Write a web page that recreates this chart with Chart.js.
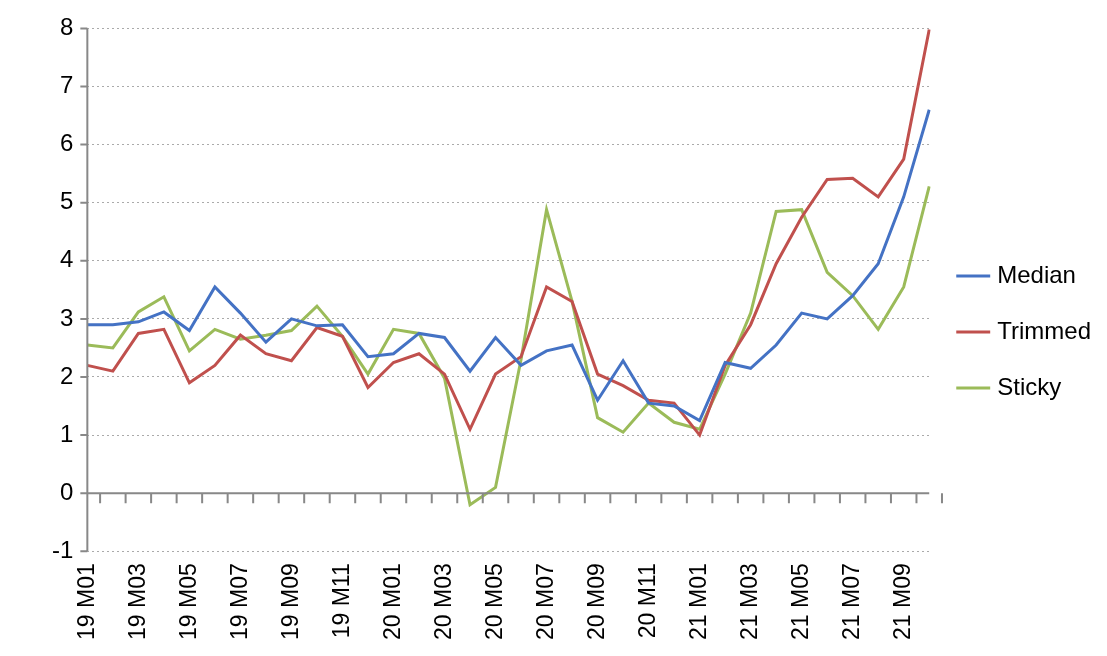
<!DOCTYPE html>
<html><head><meta charset="utf-8">
<script src="https://cdn.jsdelivr.net/npm/chart.js@4"></script>
<style>html,body{margin:0;background:#fff}#w{width:1107px;height:656px}</style>
</head><body><div id="w"><canvas id="c"></canvas></div>
<script>
const categories=["19 M01","19 M02","19 M03","19 M04","19 M05","19 M06","19 M07","19 M08","19 M09","19 M10","19 M11","19 M12","20 M01","20 M02","20 M03","20 M04","20 M05","20 M06","20 M07","20 M08","20 M09","20 M10","20 M11","20 M12","21 M01","21 M02","21 M03","21 M04","21 M05","21 M06","21 M07","21 M08","21 M09","21 M10"];
const median=[2.9,2.9,2.95,3.12,2.8,3.55,3.1,2.6,3.0,2.88,2.9,2.35,2.4,2.75,2.68,2.1,2.68,2.2,2.45,2.55,1.6,2.28,1.55,1.5,1.25,2.25,2.15,2.55,3.1,3.0,3.4,3.95,5.1,6.6];
const trimmed=[2.2,2.1,2.75,2.82,1.9,2.2,2.72,2.4,2.28,2.85,2.7,1.82,2.25,2.4,2.05,1.1,2.05,2.35,3.55,3.3,2.05,1.85,1.6,1.55,1.0,2.2,2.9,3.95,4.75,5.4,5.42,5.1,5.75,7.98];
const sticky=[2.55,2.5,3.12,3.38,2.45,2.82,2.65,2.72,2.8,3.22,2.7,2.05,2.82,2.75,1.98,-0.2,0.1,2.3,4.88,3.3,1.3,1.05,1.55,1.22,1.1,2.05,3.1,4.85,4.88,3.8,3.4,2.82,3.55,5.28];
const axes={id:'axes',afterDatasetsDraw(ch){const x=ch.scales.x,y=ch.scales.y,c=ch.ctx,a=ch.chartArea;const y0=y.getPixelForValue(0);c.save();c.strokeStyle='#888';c.lineWidth=2;c.setLineDash([]);c.beginPath();
c.moveTo(a.left,a.top);c.lineTo(a.left,a.bottom);
for(let v=-1;v<=8;v++){const py=y.getPixelForValue(v);c.moveTo(a.left-7,py);c.lineTo(a.left,py);}
c.moveTo(a.left,y0);c.lineTo(a.right,y0);
const step=x.getPixelForValue(1)-x.getPixelForValue(0);for(let i=0;i<categories.length;i++){const px=x.getPixelForValue(i)+step/2;c.moveTo(px,y0);c.lineTo(px,y0+10);}
c.stroke();c.restore();}};
const ds=(l,d,col)=>({label:l,data:d,borderColor:col,backgroundColor:col,borderWidth:3,pointRadius:0,tension:0});
new Chart(document.getElementById('c'),{type:'line',data:{labels:categories,datasets:[ds('Median',median,'#4472c4'),ds('Trimmed',trimmed,'#c0504d'),ds('Sticky',sticky,'#9bbb59')]},
options:{responsive:true,maintainAspectRatio:false,animation:false,layout:{padding:{left:38,top:20,right:6,bottom:12}},
plugins:{legend:{position:'right',labels:{usePointStyle:true,pointStyle:'line',boxWidth:60,padding:32,font:{size:24,family:'Liberation Sans'},color:'#000'}},tooltip:{enabled:false}},
scales:{x:{offset:false,grid:{display:false},border:{display:false},ticks:{autoSkip:false,maxRotation:90,minRotation:90,padding:4,color:'#000',font:{size:23,family:'Liberation Sans'},callback:(v,i)=>i%2===0?categories[i]:''}},
y:{min:-1,max:8,grid:{color:'#aaa',drawTicks:false},border:{display:false,dash:[2,3]},ticks:{stepSize:1,padding:14,color:'#000',font:{size:24,family:'Liberation Sans'}}}}},plugins:[axes]});
</script></body></html>
